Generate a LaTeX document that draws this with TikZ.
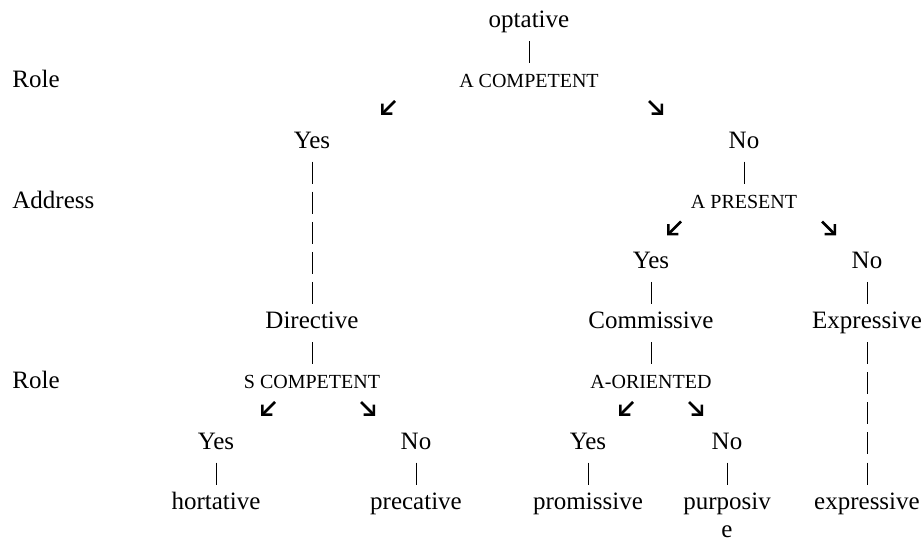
\documentclass[tikz,border=0pt]{standalone}
\usepackage{fontspec}
\setmainfont{Liberation Serif}
\usetikzlibrary{arrows.meta}
\tikzset{
    lbl/.style={inner sep=0pt, anchor=base, text height=8.4pt, text depth=2.7pt,
        font=\fontsize{12.5}{15}\selectfont},
    cond/.style={lbl, font=\fontsize{10}{12}\selectfont},
    side/.style={lbl, anchor=base west},
    bar/.style={line width=0.4pt, shorten <=9.55pt, shorten >=9.55pt,
        dash pattern=on 11pt off 4.05pt},
    arr/.style={line width=1.25pt, line cap=butt,
        -{Straight Barb[length=3.6pt,width=7.2pt,line join=miter]}}
}

\begin{document}
\begin{tikzpicture}[x=0.5pt, y=-0.5pt]
    \useasboundingbox (0,0) rectangle (923,540);
    % level labels
    \node[side] (roleA) at (12,88.0) {Role};
    \node[side] (addr) at (12,208.4) {Address};
    \node[side] (roleB) at (12,389.0) {Role};
    % tree
    \node[lbl] (opt) at (529,27.8) {optative};
    \node[cond] (acomp) at (529,88.0) {A COMPETENT};
    \node[lbl] (yesA) at (312,148.2) {Yes};
    \node[lbl] (noA) at (744,148.2) {No};
    \node[cond] (apres) at (744,208.4) {A PRESENT};
    \node[lbl] (yesB) at (651,268.6) {Yes};
    \node[lbl] (noB) at (867,268.6) {No};
    \node[lbl] (dir) at (312,328.8) {Directive};
    \node[lbl] (com) at (651,328.8) {Commissive};
    \node[lbl] (expr) at (867,328.8) {Expressive};
    \node[cond] (scomp) at (312,389.0) {S COMPETENT};
    \node[cond] (aor) at (651,389.0) {A-ORIENTED};
    \node[lbl] (yesC) at (216,449.2) {Yes};
    \node[lbl] (noC) at (416,449.2) {No};
    \node[lbl] (yesD) at (588,449.2) {Yes};
    \node[lbl] (noD) at (727,449.2) {No};
    \node[lbl] (hort) at (216,509.4) {hortative};
    \node[lbl] (prec) at (416,509.4) {precative};
    \node[lbl] (prom) at (588,509.4) {promissive};
    \node[lbl] (purp) at (727,509.4) {purposiv};
    \node[lbl] (purpE) at (727,537.5) {e};
    \node[lbl] (expl) at (867,509.4) {expressive};
    % bars
    \foreach \a/\b in {opt/acomp, yesA/dir, noA/apres, yesB/com, noB/expr,
        dir/scomp, com/aor, expr/expl, yesC/hort, noC/prec, yesD/prom, noD/purp} {
        \draw[bar] (\a.center) -- (\b.center);
    }
    % arrows
    \coordinate (acompL) at (395,101);
    \coordinate (acompR) at (649,101);
    \coordinate (apresL) at (681,221.5);
    \coordinate (apresR) at (822,221.5);
    \coordinate (scompL) at (275,402);
    \coordinate (scompR) at (361,402);
    \coordinate (aorL) at (633,402);
    \coordinate (aorR) at (689,402);
    \foreach \c/\d in {acompL/-1, acompR/1, apresL/-1, apresR/1,
        scompL/-1, scompR/1, aorL/-1, aorR/1} {
        \draw[arr] (\c) -- ++(14*\d,14);
    }
\end{tikzpicture}
\end{document}
